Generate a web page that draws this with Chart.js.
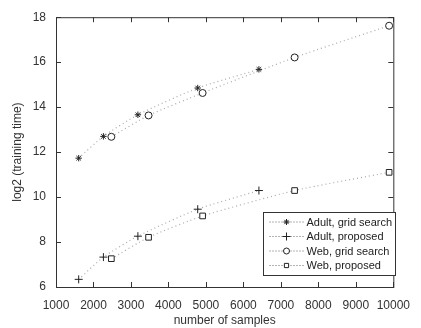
<!DOCTYPE html>
<html>
<head>
<meta charset="utf-8">
<script src="https://cdn.jsdelivr.net/npm/chart.js@4.4.0/dist/chart.umd.min.js"></script>
<style>
  html, body { margin: 0; padding: 0; background: #fff; }
  #wrap { width: 421px; height: 328px; }
</style>
</head>
<body>
<div id="wrap"><canvas id="grafico"></canvas></div>
<script>
// samples and log2 training times
const adultSamples = [1605, 2265, 3185, 4781, 6414];
const webSamples = [2477, 3470, 4912, 7366, 9888];
const adultGrid = [11.73, 12.70, 13.66, 14.85, 15.68];
const adultProposed = [6.34, 7.33, 8.26, 9.46, 10.29];
const webGrid = [12.68, 13.63, 14.63, 16.21, 17.62];
const webProposed = [7.26, 8.21, 9.16, 10.29, 11.10];
const xTicks = [1000, 2000, 3000, 4000, 5000, 6000, 7000, 8000, 9000, 10000];
const yTicks = [6, 8, 10, 12, 14, 16, 18];

const puntos = (xs, ys) => xs.map((x, i) => ({ x: x, y: ys[i] }));

const serie = (label, xs, ys, estilo, radio, relleno) => ({
    label: label,
    data: puntos(xs, ys),
    borderColor: '#aaa',
    borderWidth: 1.2,
    borderDash: [1, 3],
    pointStyle: estilo,
    pointRadius: radio,
    pointBorderColor: '#222',
    pointBackgroundColor: relleno,
    pointBorderWidth: 1,
    tension: 0.2,
    fill: false
});

const datasets = [
    serie('Adult, grid search', adultSamples, adultGrid, 'star', 3.2, '#222'),
    serie('Adult, proposed', adultSamples, adultProposed, 'cross', 4, '#222'),
    serie('Web, grid search', webSamples, webGrid, 'circle', 3.5, '#fff'),
    serie('Web, proposed', webSamples, webProposed, 'rect', 4, '#fff')
];

// marco, marcas interiores y leyenda
const marco = {
    id: 'marco',
    afterDraw(chart) {
        const ctx = chart.ctx;
        const a = chart.chartArea;
        const sx = chart.scales.x, sy = chart.scales.y;
        ctx.save();
        ctx.strokeStyle = '#333';
        ctx.lineWidth = 1;
        ctx.setLineDash([]);
        ctx.strokeRect(a.left + 0.5, a.top + 0.5, a.right - a.left, a.bottom - a.top);
        ctx.beginPath();
        xTicks.forEach(v => {
            const px = Math.round(sx.getPixelForValue(v)) + 0.5;
            ctx.moveTo(px, a.bottom); ctx.lineTo(px, a.bottom - 5);
            ctx.moveTo(px, a.top); ctx.lineTo(px, a.top + 5);
        });
        yTicks.forEach(v => {
            const py = Math.round(sy.getPixelForValue(v)) + 0.5;
            ctx.moveTo(a.left, py); ctx.lineTo(a.left + 5, py);
            ctx.moveTo(a.right, py); ctx.lineTo(a.right - 5, py);
        });
        ctx.stroke();

        // leyenda
        const bx = 263.5, by = 212.5, bw = 132, bh = 63;
        ctx.fillStyle = '#fff';
        ctx.fillRect(bx, by, bw, bh);
        ctx.strokeStyle = '#333';
        ctx.strokeRect(bx, by, bw, bh);
        ctx.font = '11px "Liberation Sans", Arial, sans-serif';
        ctx.textBaseline = 'middle';
        chart.data.datasets.forEach((ds, i) => {
            const yy = by + 9.5 + i * 14.5;
            ctx.save();
            ctx.strokeStyle = '#666';
            ctx.lineWidth = 1;
            ctx.setLineDash([1, 2]);
            ctx.beginPath();
            ctx.moveTo(bx + 6, yy); ctx.lineTo(bx + 40, yy);
            ctx.stroke();
            ctx.restore();
            ctx.strokeStyle = ds.pointBorderColor;
            ctx.fillStyle = ds.pointBackgroundColor;
            ctx.lineWidth = 1;
            Chart.helpers.drawPoint(ctx, {
                pointStyle: ds.pointStyle,
                radius: ds.pointStyle === 'cross' ? 4 : 3,
                rotation: 0,
                borderWidth: 1
            }, bx + 23, yy);
            ctx.fillStyle = '#222';
            ctx.fillText(ds.label, bx + 43, yy + 0.5);
        });
        ctx.restore();
    }
};

Chart.defaults.font.family = '"Liberation Sans", Arial, sans-serif';
Chart.defaults.font.size = 12;
Chart.defaults.color = '#333';

new Chart(document.getElementById('grafico').getContext('2d'), {
    type: 'line',
    data: { datasets: datasets },
    options: {
        responsive: true,
        maintainAspectRatio: false,
        animation: false,
        layout: { padding: { left: 10, right: 17, top: 14, bottom: 0 } },
        plugins: {
            legend: { display: false },
            tooltip: { enabled: false }
        },
        scales: {
            x: {
                type: 'linear',
                min: 1000,
                max: 10000,
                afterBuildTicks: s => { s.ticks = xTicks.map(v => ({ value: v })); },
                afterFit: s => { s.height = 41; },
                grid: { display: false, drawTicks: false },
                border: { display: false },
                ticks: { padding: 11, maxRotation: 0, autoSkip: false, callback: v => String(v) },
                title: {
                    display: true,
                    text: 'number of samples',
                    padding: { top: 4, bottom: 0 }
                }
            },
            y: {
                type: 'linear',
                min: 6,
                max: 18,
                afterBuildTicks: s => { s.ticks = yTicks.map(v => ({ value: v })); },
                afterFit: s => { s.width = 46; },
                grid: { display: false, drawTicks: false },
                border: { display: false },
                ticks: { padding: 10, callback: v => String(v) },
                title: {
                    display: true,
                    text: 'log2 (training time)',
                    padding: { top: 0, bottom: 4 }
                }
            }
        }
    },
    plugins: [marco]
});
</script>
</body>
</html>
